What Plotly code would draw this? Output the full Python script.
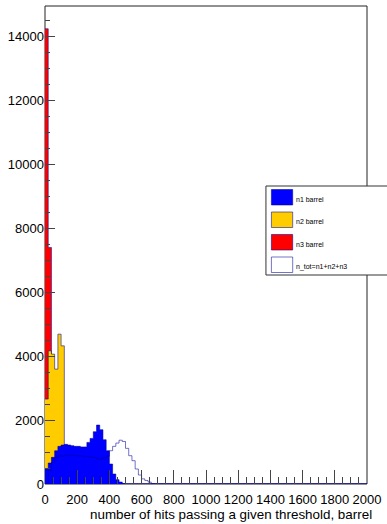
import numpy as np
import plotly.graph_objects as go

# Histogram binning: 100 bins of width 20 over [0, 2000]
BIN_WIDTH = 20
N_BINS = 100

# Bin contents (entries per bin), trailing bins are empty
n1_barrel = [469, 656, 833, 1041, 1177, 1219, 1240, 1219, 1198, 1177, 1177, 1160,
             1160, 1302, 1427, 1635, 1844, 1698, 1385, 1042, 625, 312, 135, 60, 15]
n2_barrel = [2656, 4166, 4063, 3594, 4688, 4322, 700, 350, 150, 60, 20]
n3_barrel = [14240, 7400, 1800, 600, 150, 40]
n_tot = [0, 417, 677, 833, 880, 870, 900, 910, 900, 890, 880, 880, 860, 850, 840,
         830, 780, 780, 820, 870, 1041, 1177, 1281, 1370, 1330, 1115, 885, 729,
         469, 281, 160, 110, 60, 15, 5]

x_tick_vals = list(range(0, 2001, 200))
y_tick_vals = list(range(0, 14001, 2000))

legend_labels = ["n1 barrel", "n2 barrel", "n3 barrel", "n_tot=n1+n2+n3"]

edges = np.arange(N_BINS + 1) * BIN_WIDTH


def padded(values):
    out = np.zeros(N_BINS)
    out[:len(values)] = values
    return out


def step_xy(values):
    v = padded(values)
    return edges, np.append(v, v[-1])


LINE = "rgba(0,0,153,0.55)"
FILLS = {"n1": "#0000ff", "n2": "#ffcc00", "n3": "#ff0000"}

W, H = 387, 524
ML, MR, MT, MB = 45, 17, 6, 40
PW, PH = W - ML - MR, H - MT - MB

fig = go.Figure()

# Filled histograms, drawn so that later fills cover earlier ones
for name, vals in [("n3", n3_barrel), ("n2", n2_barrel), ("n1", n1_barrel)]:
    x, y = step_xy(vals)
    fig.add_trace(go.Scatter(
        x=x, y=y, mode="lines", line_shape="hv",
        line=dict(color=LINE, width=1),
        fill="tozeroy", fillcolor=FILLS[name],
        hoverinfo="skip", showlegend=False))

# Hollow n_tot histogram on top
x, y = step_xy(n_tot)
fig.add_trace(go.Scatter(
    x=x, y=y, mode="lines", line_shape="hv",
    line=dict(color=LINE, width=1),
    hoverinfo="skip", showlegend=False))

y_max = 1.05 * max(n3_barrel)

FAMILY = "Liberation Sans, Arial, sans-serif"
font = dict(family=FAMILY, size=13, color="black")


def px_x(p):
    return (p - ML) / PW


def px_y(p):
    return (MT + PH - p) / PH


shapes = [
    # plot frame
    dict(type="rect", xref="x domain", yref="y domain", x0=0, x1=1, y0=0, y1=1,
         line=dict(color="#222", width=1), layer="below"),
    # legend box
    dict(type="rect", xref="paper", yref="paper",
         x0=px_x(268), x1=px_x(400), y0=px_y(275), y1=px_y(186),
         line=dict(color="#333", width=1), fillcolor="white", layer="above"),
]

annotations = []
swatch_fills = [FILLS["n1"], FILLS["n2"], FILLS["n3"], "white"]
for i, (label, fc) in enumerate(zip(legend_labels, swatch_fills)):
    top = 189.5 + 22.5 * i
    shapes.append(dict(type="rect", xref="paper", yref="paper",
                       x0=px_x(273.5), x1=px_x(295), y0=px_y(top + 15.5), y1=px_y(top),
                       line=dict(color=LINE, width=1), fillcolor=fc, layer="above"))
    annotations.append(dict(xref="paper", yref="paper", x=px_x(297), y=px_y(top + 9.5),
                            text=label, showarrow=False, xanchor="left", yanchor="middle",
                            borderpad=0,
                            font=dict(family=FAMILY, size=7, color="black")))

annotations.append(dict(xref="paper", yref="paper", x=px_x(376), y=px_y(514),
                        text="number of hits passing a given threshold, barrel",
                        showarrow=False, xanchor="right", yanchor="middle", borderpad=0,
                        font=dict(family=FAMILY, size=13.4, color="black")))

fig.update_layout(
    width=W, height=H,
    margin=dict(l=ML, r=MR, t=MT, b=MB, pad=0),
    paper_bgcolor="white", plot_bgcolor="white",
    font=font,
    shapes=shapes, annotations=annotations,
    showlegend=False,
    xaxis=dict(range=[0, 2000], tickvals=x_tick_vals, tickformat="d",
               ticks="inside", ticklen=14, ticklabelstandoff=6,
               tickcolor="#444", tickwidth=1, showgrid=False, zeroline=False,
               showline=False, tickfont=font,
               minor=dict(dtick=50, tick0=0, ticks="inside", ticklen=7,
                          tickcolor="#444", tickwidth=1, showgrid=False)),
    yaxis=dict(range=[0, y_max], tickvals=y_tick_vals, tickformat="d",
               ticks="inside", ticklen=10,
               tickcolor="#444", tickwidth=1, showgrid=False, zeroline=False,
               showline=False, tickfont=font,
               minor=dict(dtick=500, tick0=0, ticks="inside", ticklen=5,
                          tickcolor="#444", tickwidth=1, showgrid=False)),
)

fig.write_html("out.html")
